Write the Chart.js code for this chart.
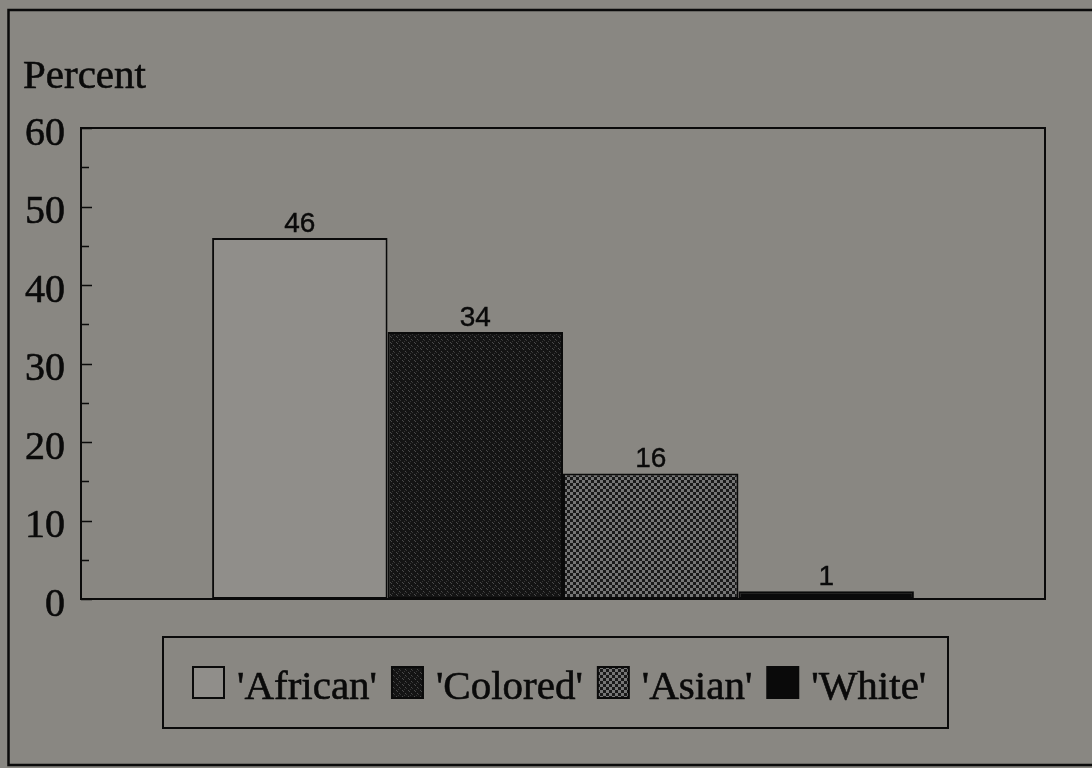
<!DOCTYPE html>
<html>
<head>
<meta charset="utf-8">
<title>Percent by group</title>
<script src="https://cdn.jsdelivr.net/npm/chart.js@4.4.1/dist/chart.umd.min.js"></script>
<style>
  html, body { margin: 0; padding: 0; background: #898782; }
  #wrap { width: 1092px; height: 768px; }
</style>
</head>
<body>
<div id="wrap"><canvas id="chart" width="1092" height="768"></canvas></div>
<script>
// ---- data ----
const categories = [''];
const seriesNames = ["'African'", "'Colored'", "'Asian'", "'White'"];
const seriesValues = [46, 34, 16, 1];
const yMin = 0;
const yMax = 60;
const yStep = 10;
const yMinorStep = 5;
const axisTitle = 'Percent';

// ---- fills ----
const BG = '#898782';
const INK = '#0a0a0a';
const SERIF = '"Liberation Serif", "Times New Roman", serif';
const SANS = '"Liberation Sans", Arial, sans-serif';

function makePattern(size, draw) {
  const c = document.createElement('canvas');
  c.width = size; c.height = size;
  const g = c.getContext('2d');
  draw(g, size);
  return g.createPattern(c, 'repeat');
}

// light plain fill
const fillAfrican = '#908e8a';
// dark stipple
const fillColored = makePattern(6, (g, s) => {
  g.fillStyle = '#141414';
  g.fillRect(0, 0, s, s);
  g.fillStyle = '#4a4a4a';
  g.fillRect(0, 0, 1, 1);
  g.fillRect(1, 1, 1, 1);
  g.fillRect(3, 3, 1, 1);
  g.fillStyle = '#353535';
  g.fillRect(4, 4, 1, 1);
  g.fillRect(2, 5, 1, 1);
});
// checkerboard
const fillAsian = makePattern(6, (g, s) => {
  g.fillStyle = '#1a1a1a';
  g.fillRect(0, 0, s, s);
  g.fillStyle = '#767676';
  g.fillRect(0, 0, 3, 3);
  g.fillRect(3, 3, 3, 3);
});
const fillWhite = '#0a0a0a';
const seriesFills = [fillAfrican, fillColored, fillAsian, fillWhite];

const datasets = seriesNames.map((name, i) => ({
  label: name,
  data: [seriesValues[i]],
  backgroundColor: seriesFills[i],
  borderColor: INK,
  borderWidth: 2,
  borderSkipped: false
}));

// text with a slight stroke so it reads as printed ink
function inkText(ctx, text, x, y, weight) {
  ctx.fillText(text, x, y);
  if (weight) {
    ctx.lineWidth = weight;
    ctx.strokeStyle = ctx.fillStyle;
    ctx.strokeText(text, x, y);
  }
}

// ---- drawing helpers ----
const decorations = {
  id: 'decorations',
  beforeDraw(chart) {
    const ctx = chart.ctx;
    ctx.save();
    ctx.fillStyle = BG;
    ctx.fillRect(0, 0, chart.width, chart.height);
    ctx.restore();
  },
  afterDatasetsDraw(chart) {
    const ctx = chart.ctx;
    const area = chart.chartArea;
    const y = chart.scales.y;
    ctx.save();

    // outer frame
    ctx.strokeStyle = INK;
    ctx.lineWidth = 2.5;
    ctx.beginPath();
    ctx.moveTo(1100, 10);
    ctx.lineTo(8.5, 10);
    ctx.lineTo(8.5, 765);
    ctx.lineTo(1100, 765);
    ctx.stroke();

    // plot box
    ctx.lineWidth = 2;
    ctx.strokeRect(area.left, area.top, area.right - area.left, area.bottom - area.top);

    // inward ticks on the value axis
    ctx.lineWidth = 1.6;
    ctx.beginPath();
    for (let v = yMin; v <= yMax; v += yMinorStep) {
      const py = Math.round(y.getPixelForValue(v)) + 0.5;
      const len = (v % yStep === 0) ? 11 : 8;
      ctx.moveTo(area.left, py);
      ctx.lineTo(area.left + len, py);
    }
    ctx.stroke();

    // value axis labels, from the scale's own ticks
    ctx.fillStyle = INK;
    ctx.font = '40px ' + SERIF;
    ctx.textAlign = 'right';
    ctx.textBaseline = 'middle';
    y.ticks.forEach((t) => {
      inkText(ctx, String(t.value), 65, y.getPixelForValue(t.value) + 6, 0.6);
    });

    // axis title
    ctx.font = '41px ' + SERIF;
    ctx.textAlign = 'left';
    ctx.textBaseline = 'alphabetic';
    inkText(ctx, axisTitle, 23, 88, 0.6);

    // value labels above bars
    ctx.font = '28px ' + SANS;
    ctx.textAlign = 'center';
    chart.data.datasets.forEach((ds, i) => {
      const meta = chart.getDatasetMeta(i);
      meta.data.forEach((bar, j) => {
        inkText(ctx, String(ds.data[j]), bar.x, bar.y - 6, 0.4);
      });
    });

    // legend box
    const lx = 163, ly = 637, lw = 785, lh = 91;
    ctx.strokeStyle = INK;
    ctx.lineWidth = 2;
    ctx.strokeRect(lx, ly, lw, lh);

    ctx.font = '41px ' + SERIF;
    ctx.textAlign = 'left';
    const sq = 31;
    const sqTop = 667;
    const baseline = 699;
    let x = 193;
    chart.data.datasets.forEach((ds) => {
      ctx.fillStyle = ds.backgroundColor;
      ctx.fillRect(x, sqTop, sq, sq);
      ctx.strokeStyle = INK;
      ctx.lineWidth = 2;
      ctx.strokeRect(x, sqTop, sq, sq);
      ctx.fillStyle = INK;
      const tx = x + sq + 13;
      inkText(ctx, ds.label, tx, baseline, 0.6);
      x = tx + ctx.measureText(ds.label).width + 15;
    });

    ctx.restore();
  }
};

new Chart(document.getElementById('chart'), {
  type: 'bar',
  data: { labels: categories, datasets },
  options: {
    responsive: false,
    animation: false,
    layout: { padding: { left: 0, top: 128, right: 47, bottom: 169 } },
    datasets: { bar: { categoryPercentage: 0.728, barPercentage: 1.0 } },
    plugins: {
      legend: { display: false },
      tooltip: { enabled: false },
      title: { display: false }
    },
    scales: {
      x: { display: false },
      y: {
        min: yMin,
        max: yMax,
        afterFit(scale) { scale.width = 81; },
        grid: { display: false, drawTicks: false },
        border: { display: false },
        ticks: { display: false, stepSize: yStep }
      }
    }
  },
  plugins: [decorations]
});
</script>
</body>
</html>
